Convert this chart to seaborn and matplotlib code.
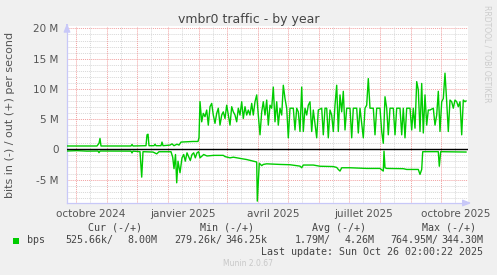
import matplotlib
matplotlib.use("Agg")
import matplotlib.pyplot as plt
import numpy as np
import pandas as pd
import seaborn as sns

# ---------------- data (Mbit/s, days since 2024-09-22) ----------------
START = "2024-09-22"
out_days = [0, 30, 32, 33, 34, 64, 65, 66, 79, 80, 81, 82, 87, 88, 89, 94, 95, 96,
            103, 105, 107, 110, 112, 114, 120, 126, 131, 132,
            133, 134.7, 136.3, 138, 139.7, 141.3, 143, 144.7, 146.3, 148, 149.7, 151.3,
            153, 154.7, 156.3, 158, 159.7, 161.3, 163, 164.7, 166.3, 168, 169.7, 171.3,
            173, 174.7, 176.3, 178, 179.7, 181.3, 183, 184.7, 186.3, 188, 189.7, 191.3,
            193, 194.7, 196.3, 198, 199.7, 201.3, 203, 204.7, 206.3, 208, 209.7, 211.3,
            213, 214.7, 216.3, 218, 219.7, 221.3, 223, 226.3, 228, 229.7, 231.3, 233,
            234.7, 236.3, 238, 239.7, 241.3, 243, 244.7, 246.3, 249.7, 251.3, 254.7,
            256.3, 258, 259.7, 261.3, 263, 264.7, 266.3, 268, 269.7, 271.3, 273, 274.7,
            276.3, 278, 279.7, 283, 284.7, 286.3, 289.7, 291.3, 293, 296.3, 298, 299.7,
            301.3, 303, 306.3, 308, 309.7, 313, 314.7, 316.3, 318, 319.7, 321.3, 323,
            326.3, 328, 329.7, 333, 334.7, 336.3, 338, 339.7, 343, 344.7, 346.3, 348,
            349.7, 351.3, 353, 354.7, 356.3, 358, 359.7, 361.3, 363, 366.3, 368, 369.7,
            371.3, 373, 374.7, 376.3, 378, 379.7, 381.3, 383, 384.7, 386.3, 388, 389.7,
            391.3, 393, 394.7, 396.3, 398, 399]
out_mbps = [0.55, 0.55, 1.0, 1.8, 0.55, 0.55, 0.8, 0.55, 0.6, 2.4, 2.5, 0.6, 0.6, 0.85, 0.6, 0.6, 1.2, 0.6,
            0.7, 0.9, 0.6, 0.85, 0.7, 1.2, 1.25, 1.3, 1.3, 1.9,
            7.9, 4.55, 5.95, 5.4, 6.5, 4.0, 7.05, 7.6, 5.67, 4.3, 5.95, 6.8,
            4.0, 5.67, 6.2, 5.1, 7.3, 5.67, 4.0, 7.05, 6.2, 5.67, 4.55, 6.8,
            5.67, 7.87, 5.1, 7.05, 5.67, 6.5, 5.67, 7.6, 5.67, 7.87, 9.0, 5.67,
            2.4, 6.2, 7.87, 5.67, 8.15, 4.0, 7.3, 6.8, 10.3, 4.55, 7.87, 4.0,
            6.8, 5.67, 10.6, 8.4, 6.8, 1.9, 6.8, 6.8, 3.2, 6.8, 6.2, 2.95,
            10.3, 2.95, 6.8, 5.67, 7.3, 7.87, 2.95, 6.5, 1.9, 6.5, 6.8,
            2.4, 6.8, 6.8, 1.9, 6.5, 5.67, 2.95, 7.3, 10.6, 2.95, 9.0, 6.2,
            9.6, 3.2, 6.8, 6.8, 1.9, 6.8, 6.8, 2.7, 6.8, 1.9, 6.8, 7.3,
            11.7, 6.8, 6.8, 2.4, 6.8, 6.8, 2.95, 1.0, 8.7, 6.8, 2.4, 6.8,
            6.8, 2.4, 6.8, 6.8, 2.4, 6.8, 1.9, 6.8, 6.8, 3.2, 6.8, 3.5,
            11.2, 9.85, 2.95, 10.9, 2.7, 9.0, 4.0, 6.5, 6.5, 6.8, 4.0, 5.67,
            9.6, 2.95, 7.87, 8.4, 12.6, 7.87, 2.95, 8.15, 7.87, 6.8, 8.15, 7.87,
            7.05, 7.87, 2.4, 8.15, 7.87, 8.0]

in_days = [0, 10, 20, 31, 32, 33, 64, 65, 66, 73,
           74.7, 76, 86, 89.7, 92, 104, 105.7, 107, 108.5, 109.7,
           111, 113, 115, 116.7, 118.3, 120, 123.3, 125, 126.7, 128.3,
           130, 131.7, 133, 136.7, 140, 146.7, 156.3, 158, 163, 166.3,
           173, 179.7, 186.3, 189.7, 190.3, 192.3, 194.7, 196.3, 199.7, 206.3,
           213, 223, 233, 234.7, 236.3, 246.3, 253, 266.3, 269.7, 271.3,
           273, 274.7, 283, 299.7, 313, 316.3, 317, 318, 319.7, 336.3,
           339.7, 351.3, 353, 354.7, 355.7, 358, 371.3, 372.3, 373.7, 399]
in_mbps = [-0.28, -0.22, -0.3, -0.28, -0.55, -0.28, -0.3, -0.6, -0.3, -0.39,
           -4.6, -0.39, -0.45, -0.75, -0.4, -0.4, -1.3, -3.2, -0.86, -5.54,
           -1.96, -3.88, -1.41, -0.86, -1.96, -0.58, -1.85, -0.86, -0.58, -1.41,
           -0.58, -0.39, -1.41, -0.86, -1.1, -1.0, -1.0, -1.2, -1.41, -1.3,
           -1.5, -1.69, -1.96, -2.1, -8.57, -2.3, -2.7, -2.5, -2.4, -2.45,
           -2.5, -2.55, -2.78, -3.05, -2.6, -2.6, -2.8, -2.85, -3.0, -3.33,
           -3.6, -3.05, -3.05, -3.16, -3.16, -3.6, -0.3, -3.05, -3.16, -3.2,
           -3.33, -3.33, -4.15, -3.33, -0.4, -0.39, -0.39, -2.8, -0.39, -0.45]

title = "vmbr0 traffic - by year"
ylabel = "bits in (-) / out (+) per second"
ytick_vals = [-5, 0, 5, 10, 15, 20]
ytick_labels = ["-5 M", "0", "5 M", "10 M", "15 M", "20 M"]
xtick_dates = ["2024-10-16", "2025-01-16", "2025-04-16", "2025-07-16", "2025-10-16"]
xtick_labels = ["octobre 2024", "janvier 2025", "avril 2025", "juillet 2025", "octobre 2025"]
legend_headers = ["Cur (-/+)", "Min (-/+)", "Avg (-/+)", "Max (-/+)"]
legend_in = ["525.66k/", "279.26k/", "1.79M/", "764.95M/"]
legend_out = ["8.00M", "346.25k", "4.26M", "344.30M"]
legend_name = "bps"
last_update = "Last update: Sun Oct 26 02:00:22 2025"
munin_ver = "Munin 2.0.67"
side_text = "RRDTOOL / TOBI OETIKER"

# ---------------- build frames ----------------
t0 = pd.Timestamp(START)
df_out = pd.DataFrame({"date": t0 + pd.to_timedelta(out_days, unit="D"), "bps": out_mbps})
df_in = pd.DataFrame({"date": t0 + pd.to_timedelta(in_days, unit="D"), "bps": in_mbps})

W, H = 497, 275
fig = plt.figure(figsize=(W / 100, H / 100), dpi=100, facecolor="#F0F0F0")


def fx(x):
    return x / W


def fy(y):
    return 1 - y / H


ax_left, ax_right, ax_top, ax_bot = 67, 468, 26, 203
ax = fig.add_axes([fx(ax_left), fy(ax_bot), (ax_right - ax_left) / W, (ax_bot - ax_top) / H])
ax.set_facecolor("white")

ax.set_xlim(t0, t0 + pd.Timedelta(days=401))
ax.set_ylim(-8.88, 20.4)

# grid
red = "#F2A0A0"
grey = "#D8D8D8"
dots = (0, (1, 1))
for v in range(-8, 21):
    if v % 5 == 0:
        ax.axhline(v, color=red, lw=0.7, ls=dots, zorder=0)
    else:
        ax.axhline(v, color=grey, lw=0.7, ls=dots, zorder=0)
for d in pd.date_range("2024-09-15", "2025-10-31", freq="MS"):
    ax.axvline(d, color=red, lw=0.7, ls=dots, zorder=0.5)
for d in pd.date_range("2024-09-01", "2025-10-31", freq="MS") + pd.Timedelta(days=14):
    ax.axvline(d, color=grey, lw=0.7, ls=dots, zorder=0)

# data
green = "#00CC00"
sns.lineplot(data=df_out, x="date", y="bps", ax=ax, color=green, lw=1.0, zorder=3)
sns.lineplot(data=df_in, x="date", y="bps", ax=ax, color=green, lw=1.0, zorder=3)
ax.axhline(0, color="black", lw=1.0, zorder=4)

# axes styling
for s in ["top", "right"]:
    ax.spines[s].set_visible(False)
axis_col = "#C8C8F8"
ax.spines["left"].set_color(axis_col)
ax.spines["bottom"].set_color(axis_col)
ax.spines["left"].set_linewidth(0.9)
ax.spines["bottom"].set_linewidth(0.9)
ax.annotate("", xy=(1.015, 0), xytext=(0.99, 0), xycoords="axes fraction",
            arrowprops=dict(arrowstyle="-|>,head_length=0.5,head_width=0.2", color=axis_col, lw=0.9))
ax.annotate("", xy=(0, 1.03), xytext=(0, 0.99), xycoords="axes fraction",
            arrowprops=dict(arrowstyle="-|>,head_length=0.5,head_width=0.2", color=axis_col, lw=0.9))

txt = "#555555"
ax.set_yticks(ytick_vals)
ax.set_yticklabels(ytick_labels)
ax.set_xticks(pd.to_datetime(xtick_dates))
ax.set_xticklabels(xtick_labels)
ax.tick_params(axis="both", length=0, labelsize=7.5, labelcolor=txt)
ax.tick_params(axis="y", pad=6)
ax.tick_params(axis="x", pad=4)
ax.set_xlabel("")
ax.set_ylabel("")

fig.text(fx(248.5), fy(20), title, ha="center", va="center", fontsize=9.0, color="#444444")
fig.text(fx(10), fy(114.5), ylabel, ha="center", va="center", rotation=90, fontsize=8.0, color=txt)
fig.text(fx(487), fy(5), side_text, ha="center", va="top", rotation=270, fontsize=5.5, color="#CCCCCC")

mono = dict(family="DejaVu Sans Mono", fontsize=7.2, color="#444444")
hdr_centers = [115.5, 227.5, 338.5, 449.5]
for cx, h in zip(hdr_centers, legend_headers):
    fig.text(fx(cx), fy(227.7), h, ha="center", va="center", **mono)
fig.patches.append(plt.Rectangle((fx(13), fy(243.5)), 6 / W, 6 / H, transform=fig.transFigure,
                                 facecolor=green, edgecolor="none"))
fig.text(fx(27), fy(240), legend_name, ha="left", va="center", **mono)
in_right = [113, 222, 331, 438]
out_right = [157, 267, 375, 483]
for xr, s in zip(in_right, legend_in):
    fig.text(fx(xr), fy(240), s, ha="right", va="center", **mono)
for xr, s in zip(out_right, legend_out):
    fig.text(fx(xr), fy(240), s, ha="right", va="center", **mono)
fig.text(fx(483), fy(251.7), last_update, ha="right", va="center", **mono)
fig.text(fx(247.7), fy(263.3), munin_ver, ha="center", va="center", fontsize=5.5, color="#C8C8C8")

fig.savefig("out.png", dpi=100, facecolor=fig.get_facecolor())
